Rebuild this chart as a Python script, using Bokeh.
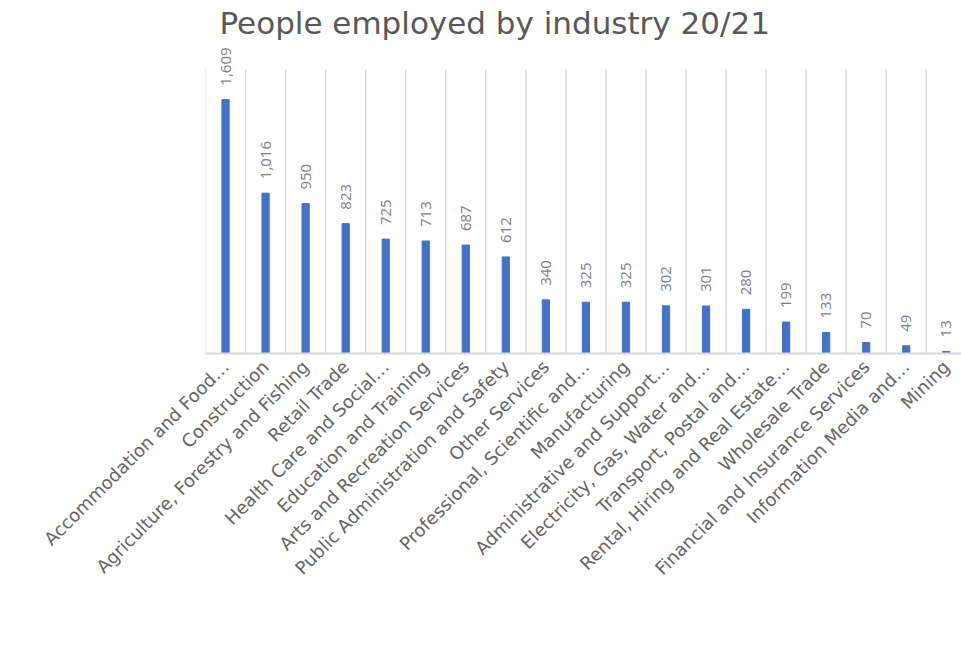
import math
from bokeh.plotting import figure
from bokeh.models import ColumnDataSource, LabelSet, Range1d, FixedTicker
from bokeh.core.properties import value
from bokeh.embed import file_html
from bokeh.resources import INLINE

categories = [
    "Accommodation and Food…",
    "Construction",
    "Agriculture, Forestry and Fishing",
    "Retail Trade",
    "Health Care and Social…",
    "Education and Training",
    "Arts and Recreation Services",
    "Public Administration and Safety",
    "Other Services",
    "Professional, Scientific and…",
    "Manufacturing",
    "Administrative and Support…",
    "Electricity, Gas, Water and…",
    "Transport, Postal and…",
    "Rental, Hiring and Real Estate…",
    "Wholesale Trade",
    "Financial and Insurance Services",
    "Information Media and…",
    "Mining",
]
employed = [1609, 1016, 950, 823, 725, 713, 687, 612, 340, 325, 325,
            302, 301, 280, 199, 133, 70, 49, 13]
value_labels = [f"{v:,}" for v in employed]
axis_max = 1800

n = len(categories)
xs = [i + 0.5 for i in range(n)]
src = ColumnDataSource(dict(x=xs, y=employed, lbl=value_labels))
grid_src = ColumnDataSource(dict(x=list(range(n + 1)),
                                 y0=[0] * (n + 1), y1=[axis_max] * (n + 1)))

AXIS_FONT = "DejaVu Sans"
GRAY = "#595959"

FRAME_TOP = 40
px_per_unit = (353 - 69) / axis_max
p = figure(width=961, height=646, output_backend="svg", toolbar_location=None,
           x_range=Range1d(0, 18.88),
           y_range=Range1d(0, axis_max + (69 - FRAME_TOP) / px_per_unit),
           min_border_left=205, min_border_right=0, min_border_top=FRAME_TOP,
           min_border_bottom=293, outline_line_color=None,
           title="People employed by industry 20/21")
p.title.text_font = AXIS_FONT
p.title.text_font_size = "31px"
p.title.text_font_style = "normal"
p.title.text_color = GRAY
p.title.align = "left"
p.title.offset = 14
p.title.standoff = 0

p.segment(x0="x", y0="y0", x1="x", y1="y1", source=grid_src,
          line_color="#d9d9d9", line_width=1.3)
p.vbar(x="x", top="y", width=0.18, source=src, color="#4472C4")

labels = LabelSet(x="x", y="y", text="lbl", source=src, angle=math.pi / 2,
                  y_offset=14, text_align="left", text_baseline="middle",
                  text_font_size="15px", text_color="#7f7f7f",
                  text_font=value("Open Sans"))
p.add_layout(labels)

p.yaxis.visible = False
p.ygrid.visible = False
p.xgrid.visible = False

p.xaxis.ticker = FixedTicker(ticks=xs)
p.xaxis.major_label_overrides = {x: c for x, c in zip(xs, categories)}
p.xaxis.major_label_orientation = math.pi / 4
p.xaxis.major_tick_line_color = None
p.xaxis.minor_tick_line_color = None
p.xaxis.axis_line_color = "#d9d9d9"
p.xaxis.axis_line_width = 2
p.xaxis.major_label_text_font = AXIS_FONT
p.xaxis.major_label_text_font_size = "18px"
p.xaxis.major_label_text_color = "#666666"
p.xaxis.major_label_standoff = 4

open("out.html", "w").write(file_html(p, INLINE))
